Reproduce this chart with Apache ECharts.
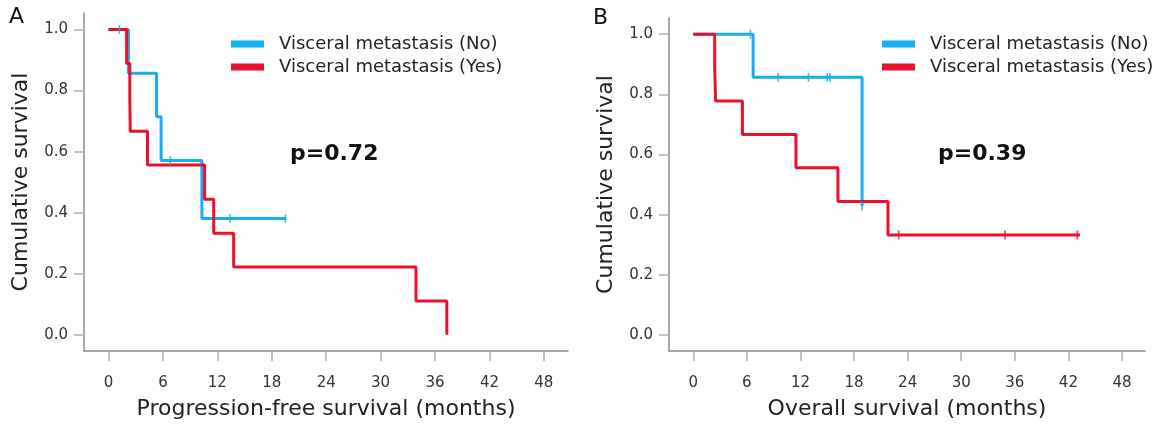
<!DOCTYPE html>
<html><head><meta charset="utf-8">
<script src="https://cdn.jsdelivr.net/npm/echarts@6/dist/echarts.min.js"></script>
<style>html,body{margin:0;padding:0;background:#fff}#c{width:1161px;height:428px}</style>
</head><body><div id="c"></div>
<script>
const xTicks = [0, 6, 12, 18, 24, 30, 36, 42, 48];
const yTicks = [0, 0.2, 0.4, 0.6, 0.8, 1.0];
const seriesNames = ['Visceral metastasis (No)', 'Visceral metastasis (Yes)'];
// Panel A: progression-free survival
const pfsNoTime = [0, 2.2, 5.3, 5.8, 10.3, 19.6];
const pfsNoSurv = [1.0, 0.857, 0.714, 0.571, 0.381, 0.381];
const pfsNoCensorTime = [1.2, 6.8, 13.4, 19.5];
const pfsNoCensorSurv = [1.0, 0.571, 0.381, 0.381];
const pfsYesTime = [0, 2.0, 2.35, 2.4, 4.3, 10.6, 11.6, 13.8, 33.9, 37.3];
const pfsYesSurv = [1.0, 0.889, 0.778, 0.667, 0.556, 0.444, 0.333, 0.222, 0.111, 0.0];
// Panel B: overall survival
const osNoTime = [0, 6.7, 18.9];
const osNoSurv = [1.0, 0.857, 0.429];
const osNoCensorTime = [6.4, 9.5, 12.9, 15.0, 15.3, 18.9];
const osNoCensorSurv = [1.0, 0.857, 0.857, 0.857, 0.857, 0.429];
const osYesTime = [0, 2.4, 2.5, 5.5, 11.5, 16.2, 21.8, 43.3];
const osYesSurv = [1.0, 0.889, 0.778, 0.667, 0.556, 0.444, 0.333, 0.333];
const osYesCensorTime = [23.0, 34.9, 43.0];
const osYesCensorSurv = [0.333, 0.333, 0.333];
const pValues = ['p=0.72', 'p=0.39'];
const panelLabels = ['A', 'B'];
const xTitles = ['Progression-free survival (months)', 'Overall survival (months)'];
const yTitle = 'Cumulative survival';

const FONT = '"DejaVu Sans", sans-serif';
const BLUE = '#17adf4';
const RED = '#e8102d';
const zip = (a, b) => a.map((v, i) => [v, b[i]]);

function xAxisCfg(g, min, max, title) {
  return {
    type: 'value', gridIndex: g, min: min, max: max,
    name: title, nameLocation: 'middle', nameGap: 47,
    nameTextStyle: { fontSize: 22, color: '#222', fontFamily: FONT },
    axisLine: { show: true, onZero: false, lineStyle: { color: '#8c8c8c', width: 1.5 } },
    axisTick: { show: true, length: 10, customValues: xTicks, lineStyle: { color: '#b0b0b0', width: 1.5 } },
    axisLabel: { customValues: xTicks, margin: 25, fontSize: 15, color: '#333', fontFamily: FONT },
    splitLine: { show: false }
  };
}
function yAxisCfg(g) {
  return {
    type: 'value', gridIndex: g, min: -0.053, max: 1.054,
    name: yTitle, nameLocation: 'middle', nameGap: 52,
    nameTextStyle: { fontSize: 22, color: '#222', fontFamily: FONT },
    axisLine: { show: true, onZero: false, lineStyle: { color: '#8c8c8c', width: 1.5 } },
    axisTick: { show: true, length: 10, customValues: yTicks, lineStyle: { color: '#b0b0b0', width: 1.5 } },
    axisLabel: { customValues: yTicks, margin: 16, fontSize: 15, color: '#333', fontFamily: FONT,
      formatter: v => Number(v).toFixed(1) },
    splitLine: { show: false }
  };
}
function kmLine(name, g, times, surv, color) {
  return {
    type: 'line', name: name, xAxisIndex: g, yAxisIndex: g, step: 'end',
    data: zip(times, surv), showSymbol: false, symbol: 'none', color: color,
    lineStyle: { width: 3, color: color }, silent: true, z: 3
  };
}
function censor(id, g, times, surv, color) {
  return {
    type: 'scatter', name: id, xAxisIndex: g, yAxisIndex: g,
    data: zip(times, surv), symbol: 'rect', symbolSize: [1.6, 9],
    itemStyle: { color: color }, silent: true, z: 4
  };
}
function legendCfg(left) {
  return {
    orient: 'vertical', left: left, top: 30, itemWidth: 33, itemHeight: 7, itemGap: 5,
    icon: 'rect', selectedMode: false,
    data: [{ name: seriesNames[0], itemStyle: { color: BLUE } }, { name: seriesNames[1], itemStyle: { color: RED } }],
    textStyle: { fontSize: 18, color: '#222', fontFamily: FONT, lineHeight: 18, padding: [0, 0, 0, 10] }
  };
}

const chart = echarts.init(document.getElementById('c'));
chart.setOption({
  animation: false,
  backgroundColor: '#fff',
  grid: [
    { left: 84, top: 13, width: 484, height: 338 },
    { left: 669, top: 18, width: 476, height: 333 }
  ],
  xAxis: [xAxisCfg(0, -2.7, 50.66, xTitles[0]), xAxisCfg(1, -2.72, 50.58, xTitles[1])],
  yAxis: [yAxisCfg(0), yAxisCfg(1)],
  legend: [legendCfg(226), legendCfg(877)],
  series: [
    kmLine(seriesNames[0], 0, pfsNoTime, pfsNoSurv, BLUE),
    kmLine(seriesNames[1], 0, pfsYesTime, pfsYesSurv, RED),
    censor('cA0', 0, pfsNoCensorTime, pfsNoCensorSurv, BLUE),
    kmLine(seriesNames[0], 1, osNoTime, osNoSurv, BLUE),
    kmLine(seriesNames[1], 1, osYesTime, osYesSurv, RED),
    censor('cB0', 1, osNoCensorTime, osNoCensorSurv, BLUE),
    censor('cB1', 1, osYesCensorTime, osYesCensorSurv, RED)
  ],
  graphic: [
    { type: 'text', left: 9, top: 6, style: { text: panelLabels[0], font: '22px ' + FONT, fill: '#111' } },
    { type: 'text', left: 593, top: 7, style: { text: panelLabels[1], font: '22px ' + FONT, fill: '#111' } },
    { type: 'text', left: 290, top: 143, style: { text: pValues[0], font: 'bold 22px ' + FONT, fill: '#111' } },
    { type: 'text', left: 938, top: 143, style: { text: pValues[1], font: 'bold 22px ' + FONT, fill: '#111' } }
  ]
});
</script>
</body></html>
